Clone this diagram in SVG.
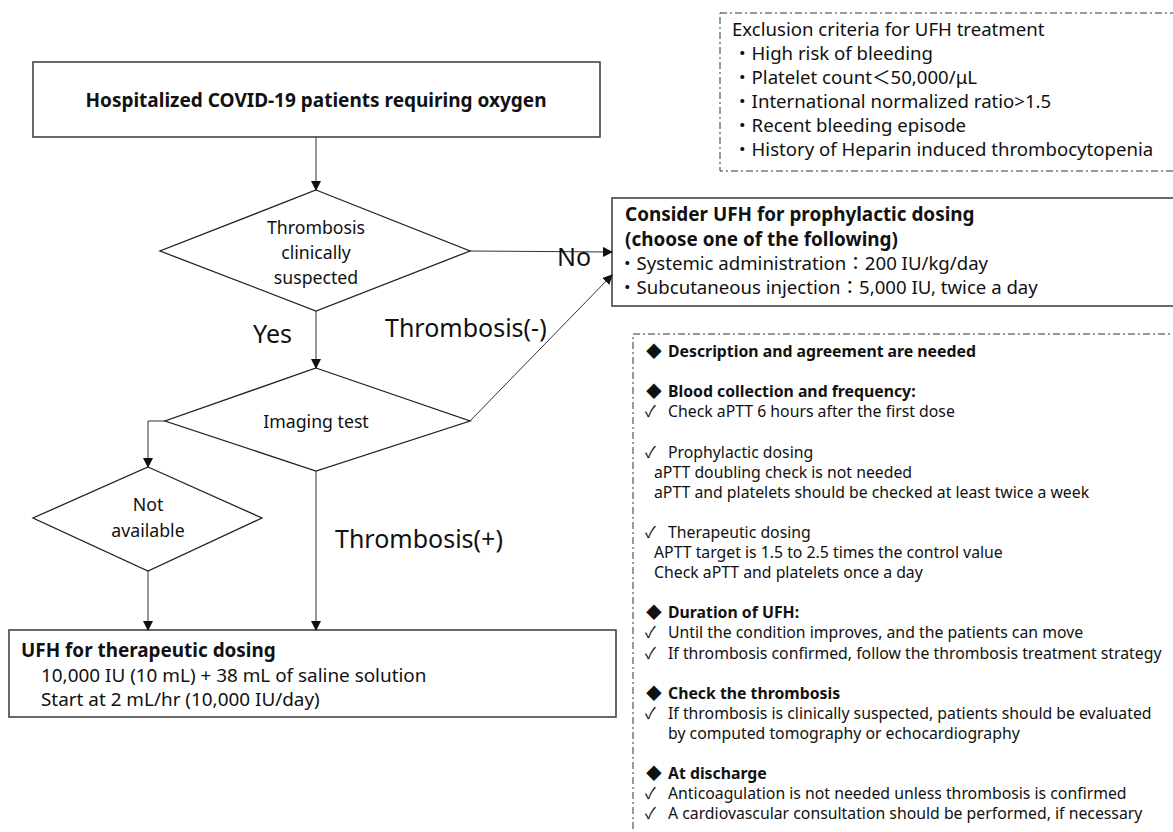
<svg xmlns="http://www.w3.org/2000/svg" width="1173" height="832" viewBox="0 0 1173 832">
<style>
text{font-family:"Noto Sans","Noto Sans CJK JP",sans-serif;fill:#111}
.b{font-weight:bold}
.box{fill:#fff;stroke:#444;stroke-width:1.6}
.dia{fill:#fff;stroke:#222;stroke-width:1.3}
.dash{fill:none;stroke:#333;stroke-width:1;stroke-dasharray:7 3 2 3}
.ln{fill:none;stroke:#333;stroke-width:1}
.c{text-anchor:middle}
.n{font-size:15.8px}
.ex{font-size:18.6px}
.lab{font-size:25px}
.dt{font-size:17.7px}
</style>
<defs>
<marker id="ah" markerWidth="10" markerHeight="10" refX="9" refY="5" orient="auto" markerUnits="userSpaceOnUse">
<path d="M0,0 L10,5 L0,10 z" fill="#111"/>
</marker>
</defs>
<g id="exclusion">
<rect class="dash" x="720" y="13" width="470" height="158"/>
<text class="ex" x="732" y="36">Exclusion criteria for UFH treatment</text>
<text class="ex" x="733" y="60">・High risk of bleeding</text>
<text class="ex" x="733" y="84">・Platelet count＜50,000/μL</text>
<text class="ex" x="733" y="108">・International normalized ratio&gt;1.5</text>
<text class="ex" x="733" y="132">・Recent bleeding episode</text>
<text class="ex" x="733" y="156">・History of Heparin induced thrombocytopenia</text>
</g>
<g id="start">
<rect class="box" x="33" y="62" width="567" height="75"/>
<text class="b c" x="316" y="107" font-size="19">Hospitalized COVID-19 patients requiring oxygen</text>
</g>
<g id="suspected">
<polygon class="dia" points="316,190 470,251 316,311 160,251"/>
<text class="c dt" x="316" y="234">Thrombosis</text>
<text class="c dt" x="316" y="259">clinically</text>
<text class="c dt" x="316" y="284">suspected</text>
</g>
<g id="prophylactic">
<rect class="box" x="612" y="198" width="570" height="108"/>
<text class="b" x="625" y="221" font-size="18.9">Consider UFH for prophylactic dosing</text>
<text class="b" x="625" y="245.5" font-size="18.9">(choose one of the following)</text>
<text x="618" y="269.5" font-size="18.6">・Systemic administration：200 IU/kg/day</text>
<text x="618" y="293.5" font-size="18.6">・Subcutaneous injection：5,000 IU, twice a day</text>
</g>
<g id="imaging">
<polygon class="dia" points="316,368 470,421 316,471 165,421"/>
<text class="c dt" x="316" y="428">Imaging test</text>
</g>
<g id="notavailable">
<polygon class="dia" points="148,467 262,518 148,571 33,518"/>
<text class="c dt" x="148" y="511">Not</text>
<text class="c dt" x="148" y="537">available</text>
</g>
<g id="therapeutic">
<rect class="box" x="9" y="630" width="607" height="87"/>
<text class="b" x="21" y="657" font-size="18.9">UFH for therapeutic dosing</text>
<text x="41" y="681.5" font-size="18.9">10,000 IU (10 mL) + 38 mL of saline solution</text>
<text x="41" y="705.5" font-size="18.9">Start at 2 mL/hr (10,000 IU/day)</text>
</g>
<g id="notes">
<rect class="dash" x="633" y="334" width="560" height="520"/>
<g class="n">
<text x="646" y="357">◆</text><text class="b" x="668" y="357">Description and agreement are needed</text>
<text x="646" y="397">◆</text><text class="b" x="668" y="397">Blood collection and frequency:</text>
<text x="645" y="417">✓</text><text x="668" y="417">Check aPTT 6 hours after the first dose</text>
<text x="645" y="458">✓</text><text x="668" y="458">Prophylactic dosing</text>
<text x="654" y="478">aPTT doubling check is not needed</text>
<text x="654" y="498">aPTT and platelets should be checked at least twice a week</text>
<text x="645" y="538">✓</text><text x="668" y="538">Therapeutic dosing</text>
<text x="654" y="558">APTT target is 1.5 to 2.5 times the control value</text>
<text x="654" y="578">Check aPTT and platelets once a day</text>
<text x="646" y="618">◆</text><text class="b" x="668" y="618">Duration of UFH:</text>
<text x="645" y="638">✓</text><text x="668" y="638">Until the condition improves, and the patients can move</text>
<text x="645" y="659">✓</text><text x="668" y="659">If thrombosis confirmed, follow the thrombosis treatment strategy</text>
<text x="646" y="699">◆</text><text class="b" x="668" y="699">Check the thrombosis</text>
<text x="645" y="719">✓</text><text x="668" y="719">If thrombosis is clinically suspected, patients should be evaluated</text>
<text x="668" y="739">by computed tomography or echocardiography</text>
<text x="646" y="779">◆</text><text class="b" x="668" y="779">At discharge</text>
<text x="645" y="799">✓</text><text x="668" y="799">Anticoagulation is not needed unless thrombosis is confirmed</text>
<text x="645" y="819">✓</text><text x="668" y="819">A cardiovascular consultation should be performed, if necessary</text>
</g>
</g>
<g id="connectors">
<line class="ln" x1="316" y1="137" x2="316" y2="190" marker-end="url(#ah)"/>
<line class="ln" x1="470" y1="251" x2="612" y2="252" marker-end="url(#ah)"/>
<line class="ln" x1="316" y1="311" x2="316" y2="368" marker-end="url(#ah)"/>
<line class="ln" x1="470" y1="421" x2="612" y2="275" marker-end="url(#ah)"/>
<polyline class="ln" points="165,421 148,421 148,467" marker-end="url(#ah)"/>
<line class="ln" x1="148" y1="571" x2="148" y2="630" marker-end="url(#ah)"/>
<line class="ln" x1="316" y1="471" x2="316" y2="630" marker-end="url(#ah)"/>
<text class="lab" x="557" y="266">No</text>
<text class="lab" x="253" y="343">Yes</text>
<text class="lab" x="385" y="337">Thrombosis(-)</text>
<text class="lab" x="335" y="548">Thrombosis(+)</text>
</g>
</svg>
